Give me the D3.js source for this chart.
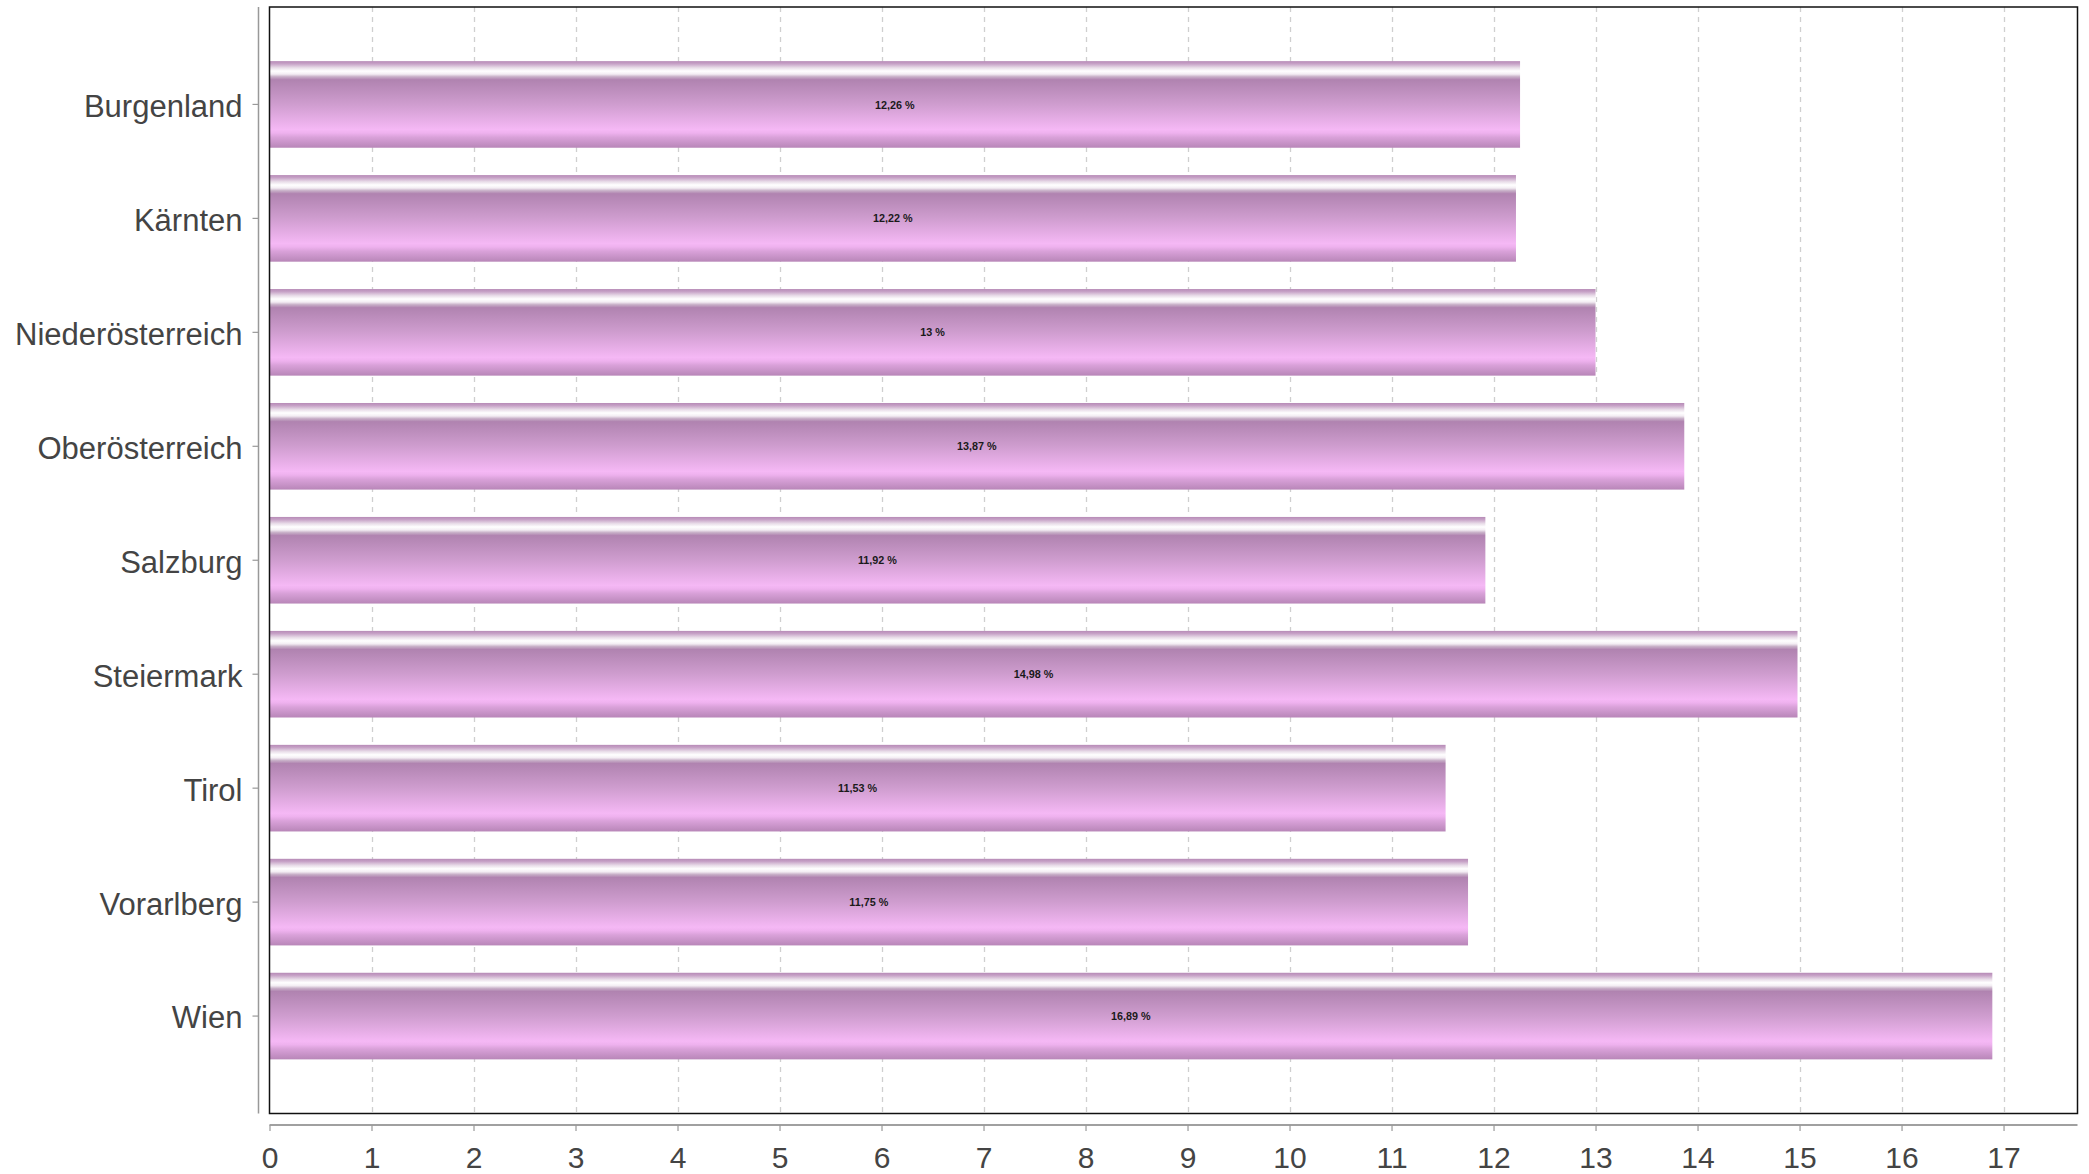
<!DOCTYPE html>
<html><head><meta charset="utf-8">
<script src="https://cdn.jsdelivr.net/npm/d3@7"></script>
<style>html,body{margin:0;padding:0;background:#fff;}svg{display:block;}</style>
</head><body>
<svg id="chart" width="2089" height="1174"></svg>
<script>
const categories = ["Burgenland","Kärnten","Niederösterreich","Oberösterreich","Salzburg","Steiermark","Tirol","Vorarlberg","Wien"];
const values = [12.26, 12.22, 13, 13.87, 11.92, 14.98, 11.53, 11.75, 16.89];
const xTicks = [0,1,2,3,4,5,6,7,8,9,10,11,12,13,14,15,16,17];
const xMax = 17.725;

(function(){
const svg = d3.select("#chart");
const pLeft = 269.5, pRight = 2077.5, pTop = 7, pBottom = 1113.5;
const font = "'Liberation Sans', Arial, Helvetica, sans-serif";

const x = d3.scaleLinear().domain([0, xMax]).range([pLeft, pRight]);
const y = d3.scaleBand().domain(categories).range([pTop, pBottom]).paddingInner(0.24).paddingOuter(0.475);

// gradient
const defs = svg.append("defs");
const g = defs.append("linearGradient").attr("id","barGrad").attr("x1",0).attr("y1",0).attr("x2",0).attr("y2",1);
[[0,"#b78bb7"],[0.03,"#c6a1c6"],[0.076,"#e8dce8"],[0.115,"#ffffff"],[0.15,"#f3edf3"],
 [0.18,"#c8b0c8"],[0.215,"#b083b0"],[0.5,"#cf9dcf"],[0.79,"#f5b8f5"],[0.83,"#eeb1ee"],
 [0.88,"#d9a1d9"],[1,"#b886b8"]].forEach(([o,c])=>g.append("stop").attr("offset",o).attr("stop-color",c));

// gridlines
svg.append("g").selectAll("line").data(xTicks.filter(d=>d>0)).join("line")
  .attr("x1",d=>Math.round(x(d))+0.5).attr("x2",d=>Math.round(x(d))+0.5)
  .attr("y1",pTop).attr("y2",pBottom)
  .attr("stroke","#cfcfcf").attr("stroke-width",1.3).attr("stroke-dasharray","5,5");

// bars
svg.append("g").selectAll("rect").data(categories).join("rect")
  .attr("x",x(0)).attr("y",d=>y(d))
  .attr("width",(d,i)=>x(values[i])-x(0)).attr("height",y.bandwidth())
  .attr("fill","url(#barGrad)");

// value labels
svg.append("g").selectAll("text").data(categories).join("text")
  .attr("x",(d,i)=>(x(0)+x(values[i]))/2).attr("y",d=>y(d)+y.bandwidth()/2)
  .attr("dy","0.38em").attr("text-anchor","middle")
  .attr("font-family",font).attr("font-weight","bold").attr("font-size",10.8).attr("fill","#1a1a1a")
  .text((d,i)=>String(values[i]).replace(".",",")+" %");

// frame
svg.append("rect").attr("x",pLeft).attr("y",pTop).attr("width",pRight-pLeft).attr("height",pBottom-pTop)
  .attr("fill","none").attr("stroke","#111").attr("stroke-width",1.5);

// y axis (offset to the left)
const yAxis = d3.axisLeft(y).tickSize(6).tickPadding(10);
const ya = svg.append("g").attr("transform","translate(258.5,0)").call(yAxis);
ya.select(".domain").attr("d",`M0,${pTop}V${pBottom}`).attr("stroke","#999").attr("stroke-width",1.5);
ya.selectAll(".tick line").attr("stroke","#999").attr("stroke-width",1.2);
ya.selectAll(".tick text").attr("font-family",font).attr("font-size",31).attr("fill","#444").attr("dy","0.4em");

// x axis (offset below)
const xAxis = d3.axisBottom(x).tickValues(xTicks).tickSize(6).tickPadding(15.5).tickFormat(d3.format("d"));
const xa = svg.append("g").attr("transform","translate(0,1125)").call(xAxis);
xa.select(".domain").attr("d",`M${pLeft},0H${pRight}`).attr("stroke","#a0a0a0").attr("stroke-width",2);
xa.selectAll(".tick line").attr("stroke","#999").attr("stroke-width",1.2);
xa.selectAll(".tick text").attr("font-family",font).attr("font-size",30).attr("fill","#444");
})();
</script>
</body></html>
